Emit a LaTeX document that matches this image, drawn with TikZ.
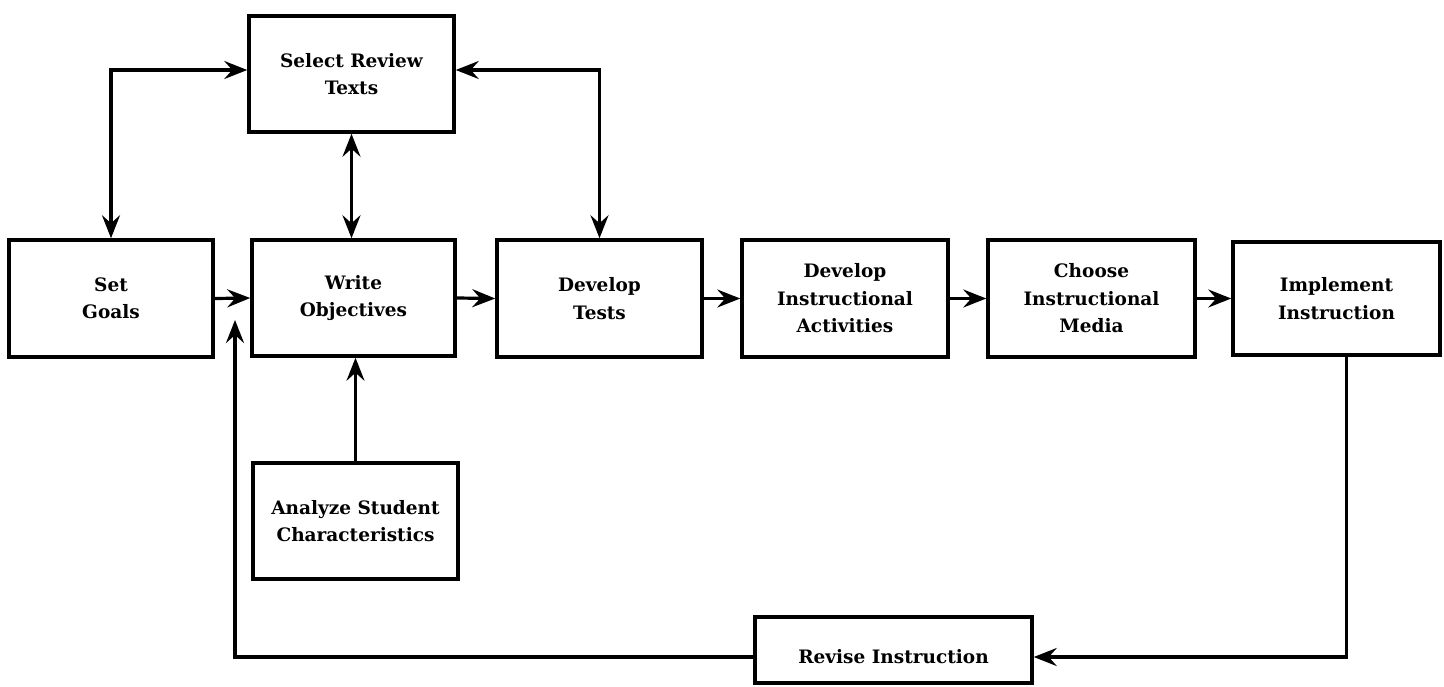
\documentclass[tikz,border=0pt]{standalone}
\usepackage{fontspec}
\setmainfont{DejaVu Serif}
\usetikzlibrary{arrows.meta}
\begin{document}
\begin{tikzpicture}[x=1pt,y=-1pt,
  stage/.style={draw, line width=3.5pt, rectangle, align=center,
    minimum width=205pt, minimum height=116pt, inner sep=4pt,
    font=\bfseries\fontsize{18.5}{27.5}\selectfont},
  arr/.style={line width=3.2pt, -{Stealth[length=23pt,width=18pt,inset=8pt]}},
  dbl/.style={line width=3.2pt, {Stealth[length=23pt,width=18pt,inset=8pt]}-{Stealth[length=23pt,width=18pt,inset=8pt]}}]
\useasboundingbox (0,0) rectangle (1444,686);

% planning stages
\node[stage] (sel)   at (351.5,74)  {Select Review\\Texts};
\node[stage, minimum width=204pt, minimum height=117pt] (goals) at (111,298.5) {Set\\Goals};
\node[stage, minimum width=203pt] (obj)   at (353.5,298)  {Write\\Objectives};
\node[stage, minimum height=117pt] (tests) at (599.5,298.5) {Develop\\Tests};
\node[stage, minimum width=206pt, minimum height=117pt] (act) at (845,298.5) {Develop\\Instructional\\Activities};
\node[stage, minimum width=207pt, minimum height=117pt] (media) at (1091.5,298.5) {Choose\\Instructional\\Media};
\node[stage, minimum width=207pt, minimum height=113pt] (impl) at (1336.5,298.5) {Implement\\Instruction};
\node[stage] (ana)   at (355.5,521) {Analyze Student\\Characteristics};
\node[stage, minimum width=277pt, minimum height=66pt, text height=27pt, text depth=0pt] (rev) at (893.5,650) {Revise Instruction};

% end of the feedback loop
\coordinate (fb) at (235,320);

% review texts links
\draw[dbl] (goals.north) |- ([yshift=4pt]sel.west);
\draw[dbl] ([yshift=4pt]sel.east) -| (tests.north);
\draw[dbl] (sel.south) -- (sel.south |- obj.north);

% main flow
\draw[arr] (goals.east) -- (obj.west);
\draw[arr] (obj.east) -- (tests.west);
\draw[arr] (tests.east) -- (act.west);
\draw[arr] (act.east) -- (media.west);
\draw[arr] (media.east) -- (impl.west);
\draw[arr] (ana.north) -- (ana.north |- obj.south);

% revision loop
\draw[arr] ([xshift=10pt]impl.south) |- ([yshift=-7pt]rev.east);
\draw[arr] ([yshift=-7pt]rev.west) -| (fb);
\end{tikzpicture}
\end{document}
